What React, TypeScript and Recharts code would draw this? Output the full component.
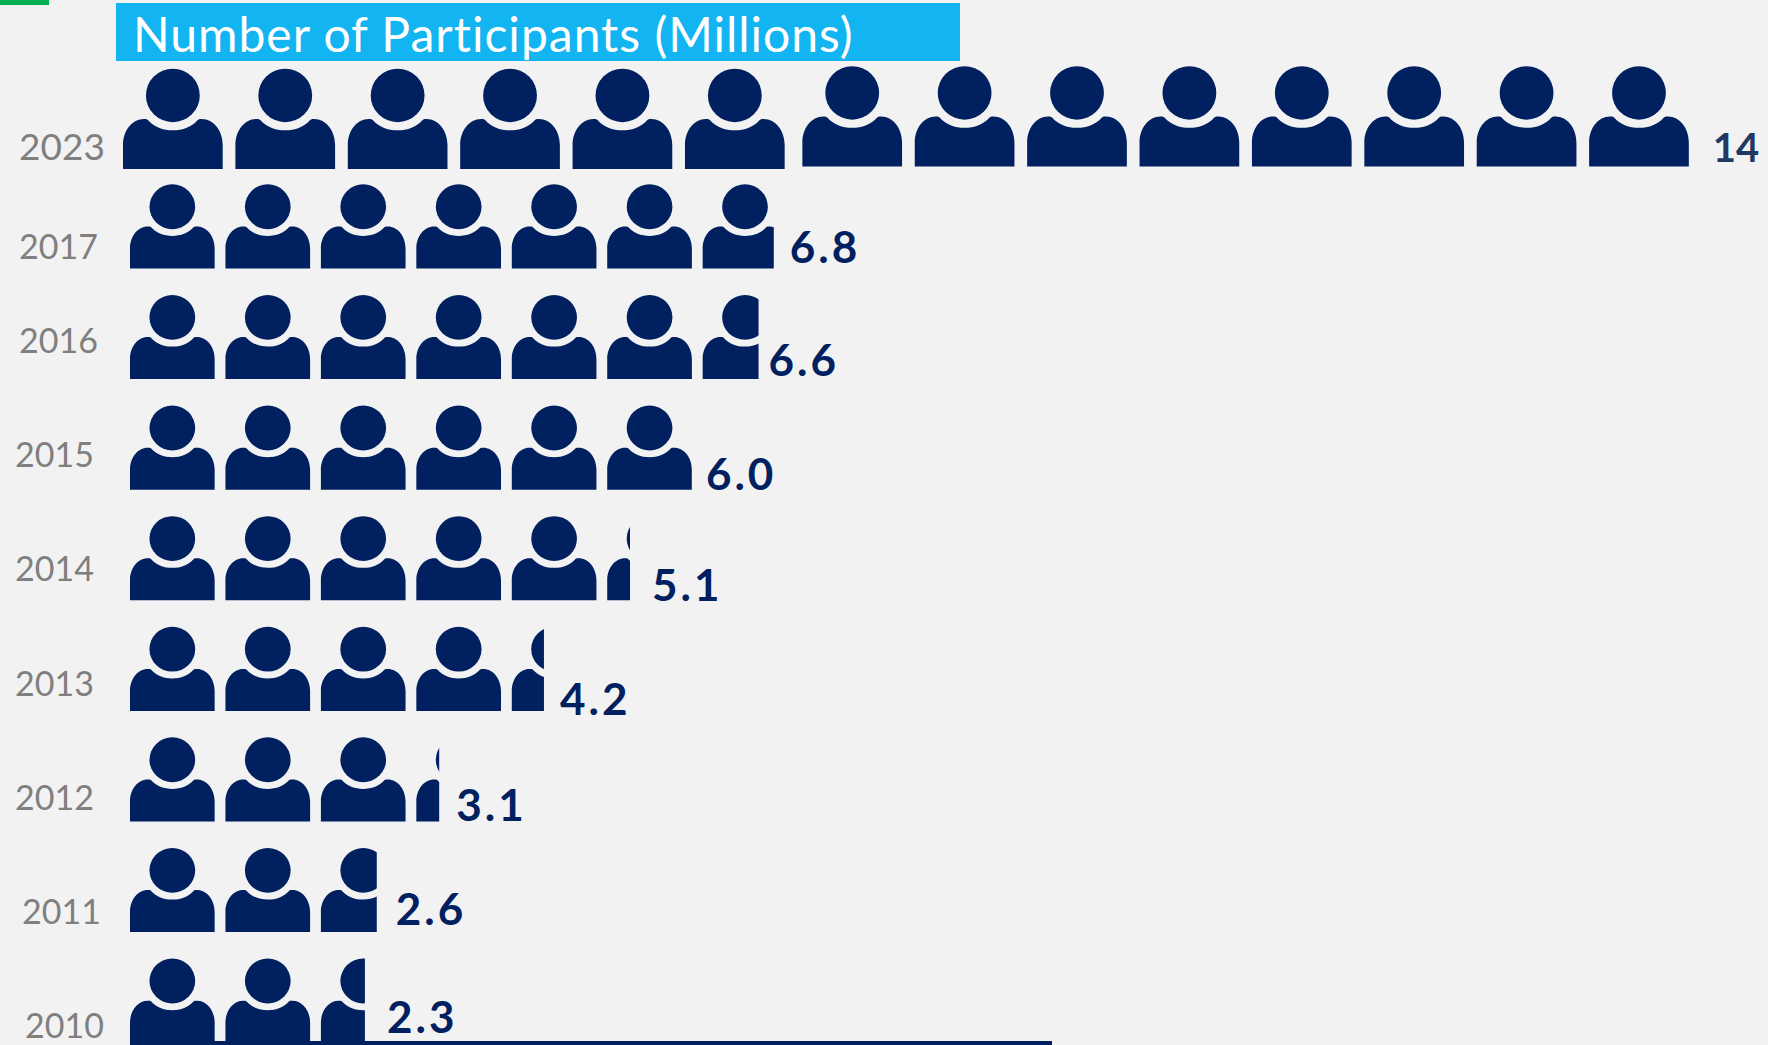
import { BarChart, Bar, XAxis, YAxis, LabelList } from "recharts";

const topYears = ["2023"];
const topValues = [14];
const years = ["2017", "2016", "2015", "2014", "2013", "2012", "2011", "2010"];
const values = [6.8, 6.6, 6.0, 5.1, 4.2, 3.1, 2.6, 2.3];

const topRows = topYears.map((year, i) => ({ year, value: topValues[i] }));
const rows = years.map((year, i) => ({ year, value: values[i] }));

const NAVY = "#002060";
const GREY = "#7f7f7f";
const ICON_SHARE = 0.887; // icon width / one unit, the rest is the gap
const LOWER_SHIFT = 13.3; // icons sit low in their band, the axis line runs through the last row

// how much of the last icon shows, by tenth of the value. the source cropped these by eye
const shareByTenth: Record<number, number> = { 1: 0.27, 2: 0.38, 3: 0.52, 6: 0.66, 8: 0.84 };

// the source is pasted together by hand, so year and value labels wander a bit
const tickPos: Record<string, [number, number, number]> = {
  "2023": [19, 27.6, 37],
  "2017": [19, 33.3, 34],
  "2016": [19, 16.8, 34],
  "2015": [15, 20.3, 34],
  "2014": [15, 23.8, 34],
  "2013": [15, 28.3, 34],
  "2012": [15, 31.3, 34],
  "2011": [22, 34.8, 34],
  "2010": [25, 38.3, 34],
};
const labelPos: Record<string, [number, number, number, number]> = {
  "2023": [29, -7.3, 40, 0],
  "2017": [16, -6, 44, 3],
  "2016": [10, -3, 44, 3],
  "2015": [14, 0, 44, 3],
  "2014": [22, 1, 44, 3],
  "2013": [16, 4, 44, 3],
  "2012": [17, -1, 44, 3],
  "2011": [19, -7, 44, 3],
  "2010": [22, -10, 44, 3],
};

// right edge of what is visible: part of an icon stays hidden only when value has a fraction
function rowEnd(value: number, x: number, width: number) {
  const unit = width / value;
  const full = Math.floor(value);
  const tenth = Math.round((value - full) * 10);
  if (tenth === 0) return x + full * unit - unit * (1 - ICON_SHARE);
  return x + full * unit + unit * ICON_SHARE * shareByTenth[tenth];
}

const PERSON =
  "M0,1 L0,.76 C0,.62 .09,.5 .21,.5 C.22,.5 .24,.5 .25,.51 C.31,.58 .4,.613 .5,.613 " +
  "C.6,.613 .69,.58 .75,.51 C.76,.5 .78,.5 .79,.5 C.91,.5 1,.62 1,.76 L1,1 Z";

function Person({ x, y, w, h }: { x: number; y: number; w: number; h: number }) {
  return (
    <g transform={`translate(${x},${y}) scale(${w},${h})`}>
      <ellipse cx={0.5} cy={0.265} rx={0.27} ry={0.267} fill={NAVY} />
      <path d={PERSON} fill={NAVY} />
    </g>
  );
}

function personRow(shift: number, splitAt: number) {
  return function Row(props: any) {
    const { x, y, width, height, payload } = props;
    const value = payload.value;
    const unit = width / value;
    const end = rowEnd(value, x, width);
    const id = `clip-${payload.year}`;
    const icons = [];
    for (let i = 0; i < Math.ceil(value); i++) {
      const late = i >= splitAt;
      icons.push(
        <Person
          key={i}
          x={x + i * unit + (late ? 5 : 0)}
          y={y + shift + (late ? -2.5 : 0)}
          w={unit * ICON_SHARE}
          h={height}
        />
      );
    }
    return (
      <g>
        <clipPath id={id}>
          <rect x={x - 2} y={y - 10} width={end - x + 2} height={height + 40} />
        </clipPath>
        <g clipPath={splitAt < 99 ? undefined : `url(#${id})`}>{icons}</g>
      </g>
    );
  };
}

function YearTick({ y, payload }: any) {
  const [left, dy, size] = tickPos[payload.value];
  return (
    <text x={left} y={y + dy} dy="0.36em" fontSize={size} fontFamily="Lato" fill={GREY}>
      {payload.value}
    </text>
  );
}

function valueLabel(data: { year: string }[], shift: number, fill: string, text: (v: number) => string) {
  return function ValueLabel(props: any) {
    const { x, y, width, height, value, index } = props;
    const [dx, dy, size, spacing] = labelPos[data[index].year];
    return (
      <text
        x={rowEnd(value, x, width) + dx}
        y={y + height + shift + dy}
        fontSize={size}
        fontWeight={700}
        fontFamily="Lato"
        fill={fill}
        letterSpacing={spacing}
      >
        {text(value)}
      </text>
    );
  };
}

export default function App() {
  return (
    <div style={{ position: "absolute", left: 0, top: 0, width: 1768, height: 1045, background: "#f2f2f2", overflow: "hidden" }}>
      <div style={{ position: "absolute", left: 0, top: 0, width: 49, height: 5, background: "#00b050" }} />
      <div
        style={{
          position: "absolute",
          left: 116,
          top: 3,
          width: 844,
          height: 58,
          background: "#12b5f1",
          color: "#fff",
          fontFamily: "Lato",
          fontSize: 48,
          letterSpacing: 1,
          lineHeight: "62px",
          paddingLeft: 17,
          boxSizing: "border-box",
          whiteSpace: "nowrap",
        }}
      >
        Number of Participants (Millions)
      </div>

      <div style={{ position: "absolute", left: 0, top: 59 }}>
        <BarChart
          width={1768}
          height={120}
          layout="vertical"
          data={topRows}
          barSize={99.9}
          barCategoryGap={0}
          margin={{ top: 10, right: 49, bottom: 10, left: 0 }}
        >
          <XAxis type="number" domain={[0, 14.2]} hide />
          <YAxis type="category" dataKey="year" width={123} axisLine={false} tickLine={false} tick={<YearTick />} />
          <Bar dataKey="value" isAnimationActive={false} shape={personRow(0, 6)}>
            <LabelList dataKey="value" content={valueLabel(topRows, 0, "#1f3864", (v) => String(v))} />
          </Bar>
        </BarChart>
      </div>

      <div style={{ position: "absolute", left: 0, top: 0 }}>
        <BarChart
          width={1768}
          height={1045}
          layout="vertical"
          data={rows}
          barSize={84}
          margin={{ top: 158.2, right: 716, bottom: 0, left: 0 }}
        >
          <XAxis
            type="number"
            domain={[0, 9.66]}
            height={2}
            tick={false}
            tickLine={false}
            axisLine={{ stroke: NAVY, strokeWidth: 4 }}
          />
          <YAxis type="category" dataKey="year" width={130} axisLine={false} tickLine={false} tick={<YearTick />} />
          <Bar dataKey="value" isAnimationActive={false} shape={personRow(LOWER_SHIFT, 99)}>
            <LabelList dataKey="value" content={valueLabel(rows, LOWER_SHIFT, NAVY, (v) => v.toFixed(1))} />
          </Bar>
        </BarChart>
      </div>
    </div>
  );
}
